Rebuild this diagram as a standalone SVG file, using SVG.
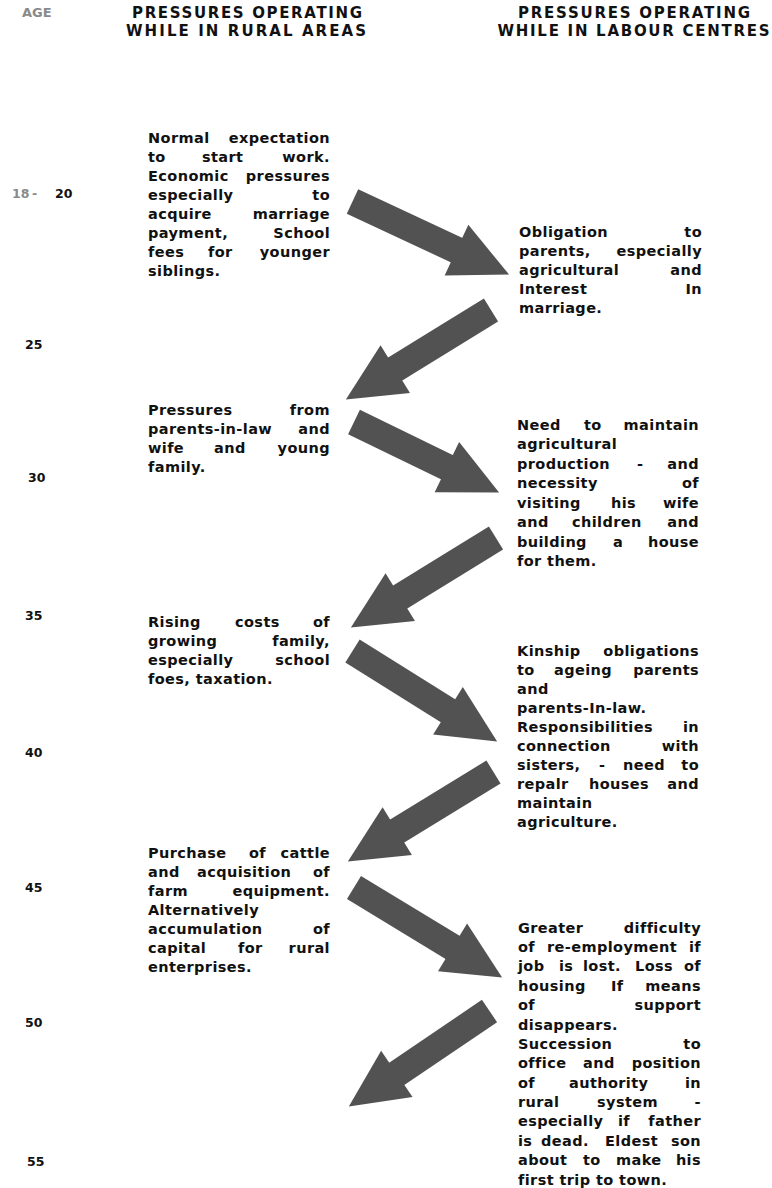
<svg xmlns="http://www.w3.org/2000/svg" width="772" height="1188" viewBox="0 0 772 1188">
<style>
.t{font-family:'DejaVu Sans','Verdana',sans-serif;font-weight:bold;font-size:14.5px;letter-spacing:0.4px;fill:#111}
.e{text-anchor:end}
.h{font-family:'DejaVu Sans',sans-serif;font-weight:bold;font-size:15px;fill:#111;text-anchor:middle}
.a{font-family:'DejaVu Sans',sans-serif;font-weight:bold;font-size:12.5px;fill:#111}
.g{fill:#8a8a8a}
.arr{stroke:#525252;stroke-width:27;stroke-linecap:butt;fill:none;marker-end:url(#head)}
</style>
<defs>
<marker id="head" markerUnits="userSpaceOnUse" orient="auto" markerWidth="60" markerHeight="56" refX="1" refY="28" viewBox="0 0 60 56" overflow="visible">
<path d="M0,0 L58,28 L0,56 Z" fill="#525252"/>
</marker>
</defs>
<rect width="772" height="1188" fill="#fff"/>

<g id="header">
<text class="a g" x="22" y="17" style="font-size:13px">AGE</text>
<text class="h" x="247" y="18" textLength="230">PRESSURES OPERATING</text>
<text class="h" x="246" y="35.5" textLength="240">WHILE IN RURAL AREAS</text>
<text class="h" x="634" y="18" textLength="232">PRESSURES OPERATING</text>
<text class="h" x="633.5" y="35.5" textLength="272">WHILE IN LABOUR CENTRES</text>
</g>

<g id="ages">
<text class="a g" x="12" y="198">18</text>
<text class="a g" x="32" y="198">-</text>
<text class="a" x="55" y="198">20</text>
<text class="a" x="25" y="348.5">25</text>
<text class="a" x="28" y="482">30</text>
<text class="a" x="25" y="619.5">35</text>
<text class="a" x="25" y="756.5">40</text>
<text class="a" x="25" y="891.5">45</text>
<text class="a" x="25" y="1026.5">50</text>
<text class="a" x="27" y="1166">55</text>
</g>

<g id="connectors">
<line class="arr" x1="352.5" y1="201.5" x2="457.4" y2="250.5"/>
<line class="arr" x1="491" y1="310" x2="394.4" y2="369.6"/>
<line class="arr" x1="354" y1="422" x2="447.8" y2="467.6"/>
<line class="arr" x1="496" y1="538" x2="399.4" y2="597.6"/>
<line class="arr" x1="352.5" y1="651" x2="448.8" y2="711.2"/>
<line class="arr" x1="493.5" y1="772" x2="396.4" y2="831.6"/>
<line class="arr" x1="354" y1="887.5" x2="453.4" y2="947.9"/>
<line class="arr" x1="489.5" y1="1011" x2="396" y2="1074.4"/>
</g>

<g id="rural-18-20">
<text class="t" x="148" y="142.5">Normal</text><text class="t e" x="330" y="142.5">expectation</text>
<text class="t" x="148" y="161.5">to</text><text class="t" x="202" y="161.5">start</text><text class="t e" x="330" y="161.5">work.</text>
<text class="t" x="148" y="180.5">Economic</text><text class="t e" x="330" y="180.5">pressures</text>
<text class="t" x="148" y="199.5">especially</text><text class="t e" x="330" y="199.5">to</text>
<text class="t" x="148" y="218.5">acquire</text><text class="t e" x="330" y="218.5">marriage</text>
<text class="t" x="148" y="237.5">payment,</text><text class="t e" x="330" y="237.5">School</text>
<text class="t" x="148" y="256.5">fees</text><text class="t" x="208" y="256.5">for</text><text class="t e" x="330" y="256.5">younger</text>
<text class="t" x="148" y="275.5">siblings.</text>
</g>

<g id="centre-20-25">
<text class="t" x="519" y="236.5">Obligation</text><text class="t e" x="702" y="236.5">to</text>
<text class="t" x="519" y="255.5">parents,</text><text class="t e" x="702" y="255.5">especially</text>
<text class="t" x="519" y="274.5">agricultural</text><text class="t e" x="702" y="274.5">and</text>
<text class="t" x="519" y="293.5">Interest</text><text class="t e" x="702" y="293.5">In</text>
<text class="t" x="519" y="312.5">marriage.</text>
</g>

<g id="rural-25-30">
<text class="t" x="148" y="414.5">Pressures</text><text class="t e" x="330" y="414.5">from</text>
<text class="t" x="148" y="433.5">parents-in-law</text><text class="t e" x="330" y="433.5">and</text>
<text class="t" x="148" y="452.5">wife</text><text class="t" x="214" y="452.5">and</text><text class="t e" x="330" y="452.5">young</text>
<text class="t" x="148" y="471.5">family.</text>
</g>

<g id="centre-30-35">
<text class="t" x="517" y="429.5">Need</text><text class="t" x="584" y="429.5">to</text><text class="t e" x="699" y="429.5">maintain</text>
<text class="t" x="517" y="449">agricultural</text>
<text class="t" x="517" y="468.5">production</text><text class="t" x="637" y="468.5">-</text><text class="t e" x="699" y="468.5">and</text>
<text class="t" x="517" y="488">necessity</text><text class="t e" x="699" y="488">of</text>
<text class="t" x="517" y="507.5">visiting</text><text class="t" x="611" y="507.5">his</text><text class="t e" x="699" y="507.5">wife</text>
<text class="t" x="517" y="527">and</text><text class="t" x="572" y="527">children</text><text class="t e" x="699" y="527">and</text>
<text class="t" x="517" y="546.5">building</text><text class="t" x="613" y="546.5">a</text><text class="t e" x="699" y="546.5">house</text>
<text class="t" x="517" y="566">for them.</text>
</g>

<g id="rural-35-40">
<text class="t" x="148" y="626.5">Rising</text><text class="t" x="235" y="626.5">costs</text><text class="t e" x="330" y="626.5">of</text>
<text class="t" x="148" y="645.5">growing</text><text class="t e" x="330" y="645.5">family,</text>
<text class="t" x="148" y="664.5">especially</text><text class="t e" x="330" y="664.5">school</text>
<text class="t" x="148" y="683.5">foes, taxation.</text>
</g>

<g id="centre-40-45">
<text class="t" x="517" y="655.5">Kinship</text><text class="t e" x="699" y="655.5">obligations</text>
<text class="t" x="517" y="674.6">to</text><text class="t" x="554" y="674.6">ageing</text><text class="t e" x="699" y="674.6">parents</text>
<text class="t" x="517" y="693.7">and</text>
<text class="t" x="517" y="712.8">parents-In-law.</text>
<text class="t" x="517" y="731.9">Responsibilities</text><text class="t e" x="699" y="731.9">in</text>
<text class="t" x="517" y="751">connection</text><text class="t e" x="699" y="751">with</text>
<text class="t" x="517" y="770.1">sisters,</text><text class="t" x="599" y="770.1">-</text><text class="t" x="623" y="770.1">need</text><text class="t e" x="699" y="770.1">to</text>
<text class="t" x="517" y="789.2">repalr</text><text class="t" x="589" y="789.2">houses</text><text class="t e" x="699" y="789.2">and</text>
<text class="t" x="517" y="808.3">maintain</text>
<text class="t" x="517" y="827.4">agriculture.</text>
</g>

<g id="rural-45-50">
<text class="t" x="148" y="857.5">Purchase</text><text class="t" x="249" y="857.5">of</text><text class="t e" x="330" y="857.5">cattle</text>
<text class="t" x="148" y="876.5">and</text><text class="t" x="197" y="876.5">acquisition</text><text class="t e" x="330" y="876.5">of</text>
<text class="t" x="148" y="895.5">farm</text><text class="t e" x="330" y="895.5">equipment.</text>
<text class="t" x="148" y="914.5">Alternatively</text>
<text class="t" x="148" y="933.5">accumulation</text><text class="t e" x="330" y="933.5">of</text>
<text class="t" x="148" y="952.5">capital</text><text class="t" x="238" y="952.5">for</text><text class="t e" x="330" y="952.5">rural</text>
<text class="t" x="148" y="971.5">enterprises.</text>
</g>

<g id="centre-50-55">
<text class="t" x="518" y="932.7">Greater</text><text class="t e" x="701" y="932.7">difficulty</text>
<text class="t" x="518" y="952.1">of</text><text class="t" x="547" y="952.1">re-employment</text><text class="t e" x="701" y="952.1">if</text>
<text class="t" x="518" y="971.4">job</text><text class="t" x="559" y="971.4">is</text><text class="t" x="583" y="971.4">lost.</text><text class="t" x="635" y="971.4">Loss</text><text class="t e" x="701" y="971.4">of</text>
<text class="t" x="518" y="990.8">housing</text><text class="t" x="611" y="990.8">If</text><text class="t e" x="701" y="990.8">means</text>
<text class="t" x="518" y="1010.2">of</text><text class="t e" x="701" y="1010.2">support</text>
<text class="t" x="518" y="1029.6">disappears.</text>
<text class="t" x="518" y="1048.9">Succession</text><text class="t e" x="701" y="1048.9">to</text>
<text class="t" x="518" y="1068.3">office</text><text class="t" x="583" y="1068.3">and</text><text class="t e" x="701" y="1068.3">position</text>
<text class="t" x="518" y="1087.7">of</text><text class="t" x="569" y="1087.7">authority</text><text class="t e" x="701" y="1087.7">in</text>
<text class="t" x="518" y="1107">rural</text><text class="t" x="597" y="1107">system</text><text class="t e" x="701" y="1107">-</text>
<text class="t" x="518" y="1126.4">especially</text><text class="t" x="618" y="1126.4">if</text><text class="t e" x="701" y="1126.4">father</text>
<text class="t" x="518" y="1145.8">is</text><text class="t" x="541" y="1145.8">dead.</text><text class="t" x="605" y="1145.8">Eldest</text><text class="t e" x="701" y="1145.8">son</text>
<text class="t" x="518" y="1165.2">about</text><text class="t" x="583" y="1165.2">to</text><text class="t" x="616" y="1165.2">make</text><text class="t e" x="701" y="1165.2">his</text>
<text class="t" x="518" y="1184.5">first trip to town.</text>
</g>
</svg>
